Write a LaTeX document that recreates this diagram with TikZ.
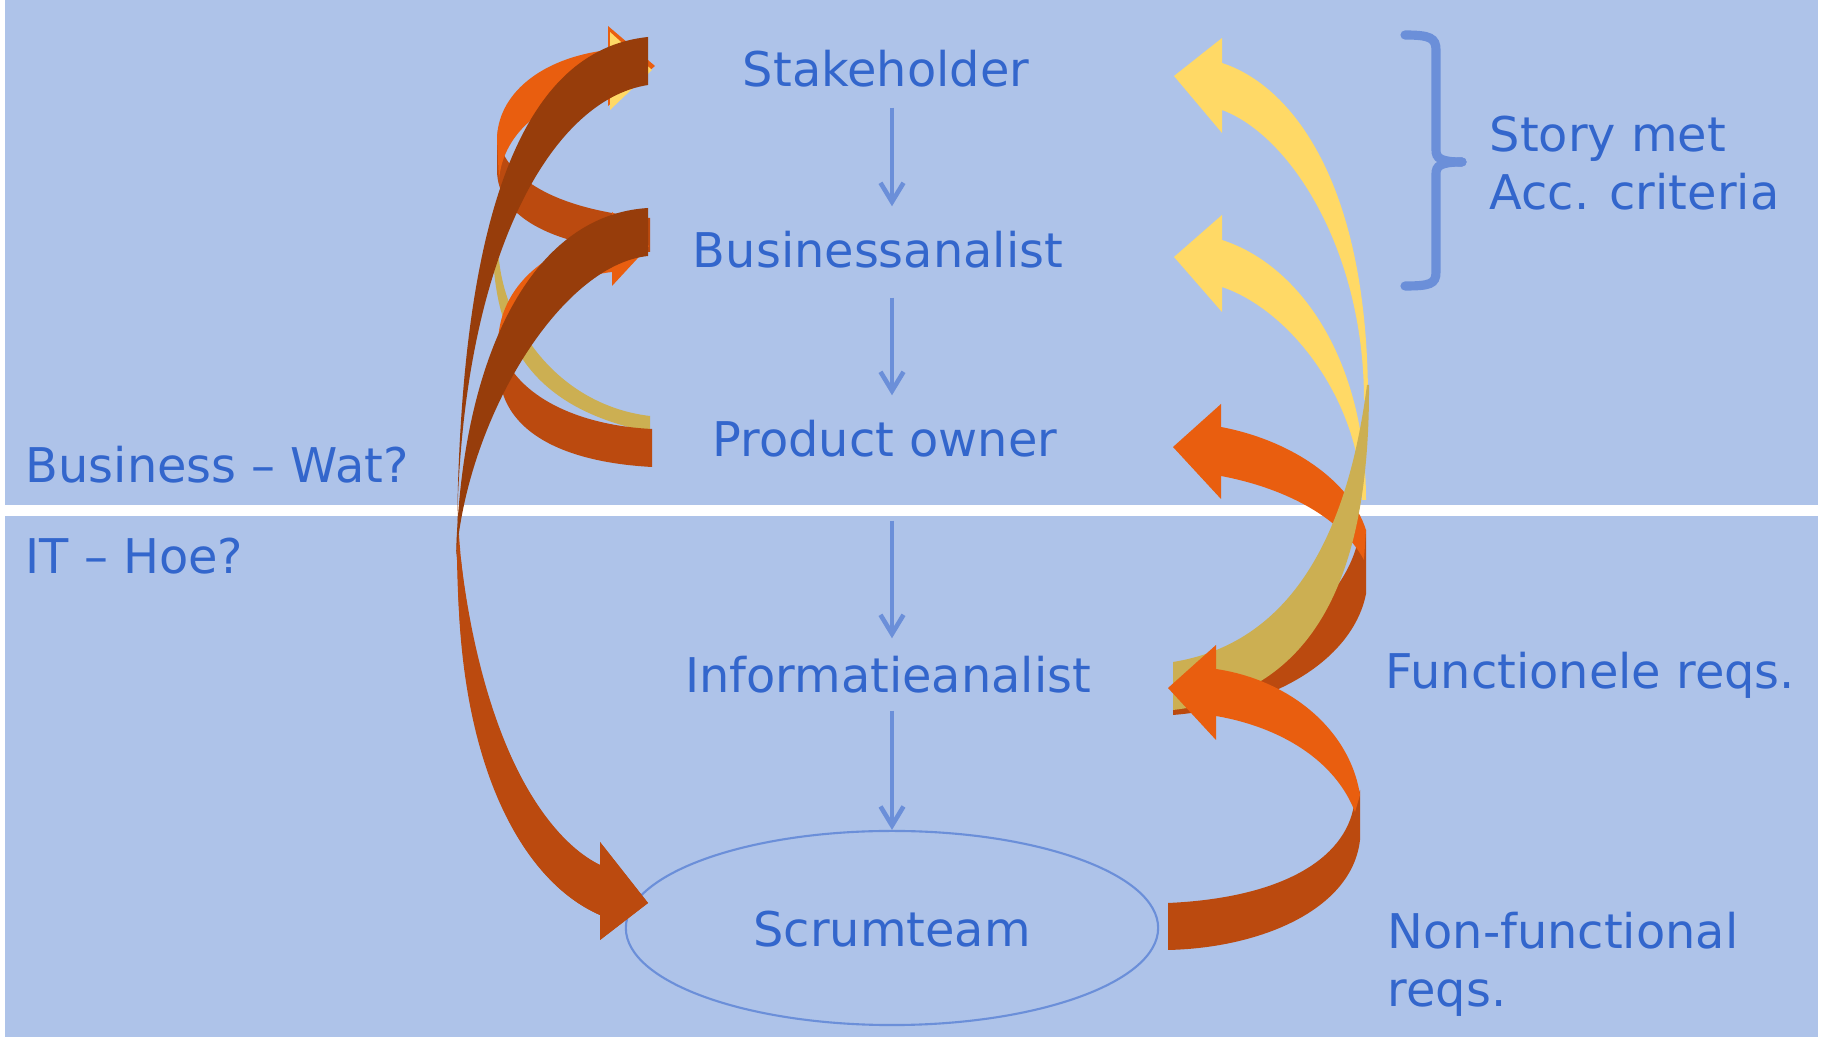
\documentclass[tikz,border=0pt]{standalone}
\usepackage{fontspec}
\setmainfont{DejaVu Sans}
\usepackage{xcolor}
\usepackage{tikz}
\usetikzlibrary{arrows.meta,shapes.geometric}
\definecolor{bgblue}{RGB}{174,195,233}
\definecolor{txtblue}{RGB}{51,102,204}
\definecolor{lineblue}{RGB}{107,143,217}
\definecolor{ylw}{RGB}{255,217,102}
\definecolor{khaki}{RGB}{204,175,82}
\definecolor{orng}{RGB}{233,94,15}
\definecolor{dorng}{RGB}{187,74,15}
\definecolor{brwn}{RGB}{151,61,11}

\begin{document}
\begin{tikzpicture}[x=0.01cm, y=-0.01cm,
  every node/.style={text=txtblue, font=\fontsize{13.6}{16.5}\selectfont, inner sep=0pt},
  role/.style={text height=0.36cm, text depth=0pt, anchor=base},
  lbl/.style={align=left, anchor=north west},
  flow/.style={draw=lineblue, line width=1.3pt, -{Straight Barb[length=1.9mm,width=2.3mm]}},
  brace/.style={draw=lineblue, line width=2.6pt, line cap=round}]
  \useasboundingbox (0,0) rectangle (1826,1037);
  \fill[bgblue] (5,0) rectangle (1818,505);
  \fill[bgblue] (5,516) rectangle (1818,1037);

  \node[ellipse, draw=lineblue, line width=0.6pt, minimum width=5.32cm,
    minimum height=1.94cm, text height=0.36cm, text depth=0pt] (scrum) at (892,928) {Scrumteam};

  \fill[dorng] (1366,530) -- (1366,594) .. controls (1355,650) and (1290,705) .. (1173,715)
    -- (1173,665) .. controls (1280,655) and (1350,600) .. (1360,530) -- cycle;
  \fill[orng] (1173,447) -- (1221,404) -- (1221,427) .. controls (1290,440) and (1350,480) .. (1366,530)
    -- (1364,560) .. controls (1340,515) and (1280,487) .. (1221,476) -- (1221,499) -- cycle;
  \fill[ylw] (1174,76) -- (1222,38) -- (1222,63) .. controls (1290,85) and (1368,180) .. (1368,400)
    -- (1364,400) .. controls (1364,250) and (1290,135) .. (1222,110) -- (1222,133) -- cycle;
  \fill[ylw] (1174,257) -- (1222,215) -- (1222,240) .. controls (1300,265) and (1366,360) .. (1366,500)
    -- (1362,500) .. controls (1360,400) and (1290,310) .. (1222,287) -- (1222,312) -- cycle;
  \fill[khaki] (1367,385) .. controls (1352,500) and (1310,640) .. (1173,662)
    -- (1173,710) .. controls (1300,695) and (1370,600) .. (1369,385) -- cycle;
  \fill[dorng] (1360,790) -- (1360,840) .. controls (1352,910) and (1260,948) .. (1168,950)
    -- (1168,903) .. controls (1280,898) and (1345,860) .. (1354,805) -- cycle;
  \fill[orng] (1168,688) -- (1216,645) -- (1216,669) .. controls (1290,680) and (1350,730) .. (1360,795)
    -- (1355,812) .. controls (1335,760) and (1280,727) .. (1216,716) -- (1216,740) -- cycle;

  \fill[ylw] (610,55) .. controls (540,70) and (495,170) .. (493,260)
    -- (499,260) .. controls (502,190) and (560,100) .. (610,90) -- cycle;
  \fill[khaki] (493,250) .. controls (495,350) and (540,410) .. (650,432)
    -- (650,416) .. controls (565,406) and (507,335) .. (499,260) -- cycle;
  \fill[dorng] (497,130) .. controls (500,180) and (560,210) .. (650,218)
    -- (650,252) .. controls (560,248) and (497,220) .. (497,170) -- cycle;
  \fill[orng] (655,66) -- (608,26) -- (608,50) .. controls (540,58) and (497,95) .. (497,140)
    -- (499,180) .. controls (503,130) and (550,95) .. (608,92) -- (608,106) -- cycle;
  \fill[ylw] (652,70) -- (610,32) -- (610,110) -- cycle;
  \fill[dorng] (498,335) .. controls (505,390) and (570,425) .. (652,429)
    -- (652,467) .. controls (560,462) and (500,430) .. (499,370) -- cycle;
  \fill[orng] (649,246) -- (612,212) -- (612,236) .. controls (550,245) and (498,285) .. (498,345)
    -- (500,370) .. controls (505,310) and (560,278) .. (612,272) -- (612,286) -- cycle;

  \fill[dorng] (457,535) .. controls (455,760) and (520,880) .. (600,915) -- (600,940) -- (648,903)
    -- (600,842) -- (600,865) .. controls (530,830) and (470,700) .. (459,535) -- cycle;
  \fill[dorng] (458,560) .. controls (456,760) and (520,880) .. (600,915) -- (600,940) -- (648,903)
    -- (600,842) -- (600,865) .. controls (535,835) and (480,720) .. (461,560) -- cycle;
  \fill[brwn] (648,37) .. controls (520,50) and (460,220) .. (457,535)
    .. controls (460,260) and (550,100) .. (648,85) -- cycle;
  \fill[brwn] (648,208) .. controls (530,215) and (460,360) .. (456,560)
    .. controls (466,420) and (560,265) .. (648,256) -- cycle;

  \node[role] (stake) at (886,87) {Stakeholder};
  \node[role] (busan) at (878,268) {Businessanalist};
  \node[role] (po) at (885,457) {Product owner};
  \node[role] (infan) at (888,693) {Informatieanalist};

  \draw[flow, shorten <=0.2cm, shorten >=0.25cm] (stake.south -| scrum.north) -- (busan.north -| scrum.north);
  \draw[flow, shorten <=0.29cm, shorten >=0.25cm] (busan.south -| scrum.north) -- (po.north -| scrum.north);
  \draw[flow, shorten <=0.63cm, shorten >=0.18cm] (po.south -| scrum.north) -- (infan.north -| scrum.north);
  \draw[flow, shorten <=0.17cm] (infan.south -| scrum.north) -- (scrum.north);

  \node[role, anchor=base west] (biz) at (25,483) {Business – Wat?};
  \node[role, anchor=base west] (it) at (25,574) {IT – Hoe?};
  \node[lbl] (story) at (1489,115) {Story met\\Acc. criteria};
  \node[role, anchor=base west] (func) at (1385,689) {Functionele reqs.};
  \node[lbl] (nonfunc) at (1387,911) {Non-functional\\reqs.};

  \draw[brace] (1405,35) .. controls (1430,35) and (1436,38) .. (1436,50) -- (1436,150)
    .. controls (1436,158) and (1440,162) .. (1462,162);
  \draw[brace] (1462,162) .. controls (1440,162) and (1436,166) .. (1436,174) -- (1436,272)
    .. controls (1436,284) and (1430,286) .. (1405,286);
\end{tikzpicture}
\end{document}
